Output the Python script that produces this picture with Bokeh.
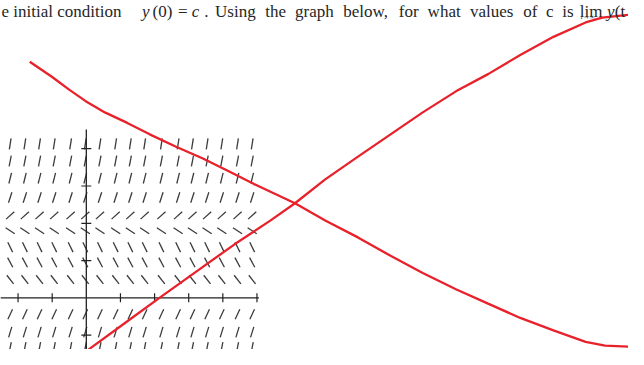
import math
from bokeh.plotting import figure
from bokeh.models import Range1d
from bokeh.core.properties import value
from bokeh.embed import file_html
from bokeh.resources import INLINE

# ---- data (t = horizontal units of the slope field, y = vertical units) ----
T_TICKS = [-2, -1, 1, 2, 3, 4, 5]
Y_TICKS = [-1, 1, 2, 3, 4]

FIELD_T = [-2.23, -1.80, -1.37, -0.94, -0.46, -0.03, 0.40, 0.86, 1.29,
           1.71, 2.20, 2.69, 3.11, 3.54, 3.97, 4.43, 4.86]
FIELD_Y = [4.13, 3.67, 3.21, 2.69, 2.21, 1.80, 1.36, 0.95, 0.49,
           -0.44, -0.92, -1.33]
# screen angle of each row's slope marks (degrees, counter-clockwise)
FIELD_ANGLE_DEG = [81, 79, 76, 72, 42, -34, -64, -62, -52, 65, 73, 79]

CURVE_DOWN_T = [-1.657, -1.0, -0.514, -0.029, 0.543, 1.2, 1.857, 2.629, 3.4,
                4.143, 4.914, 6.114, 7.0, 7.971, 8.914, 9.857, 10.829, 11.771,
                12.714, 13.686, 14.629, 15.2, 15.886]
CURVE_DOWN_Y = [6.333, 5.923, 5.590, 5.282, 4.974, 4.692, 4.385, 4.051, 3.744,
                3.410, 3.051, 2.538, 2.077, 1.615, 1.128, 0.667, 0.231, -0.154,
                -0.538, -0.872, -1.179, -1.282, -1.308]

CURVE_UP_T = [0.0, 0.143, 1.143, 2.143, 3.2, 4.343, 5.4, 6.114, 7.0, 7.971,
              8.914, 9.857, 10.829, 11.771, 12.714, 13.686, 14.629, 15.114, 15.886]
CURVE_UP_Y = [-1.436, -1.333, -0.667, 0.0, 0.692, 1.436, 2.077, 2.538, 3.179,
              3.795, 4.385, 4.974, 5.538, 6.0, 6.513, 7.0, 7.385, 7.513, 7.590]

# text of the (cropped) question line above the graph
TEXT_PIECES = ["e initial condition", "y", "(0)", "=", "c", ".",
               "Using", "the", "graph", "below,", "for", "what", "values",
               "of", "c", "is", "lim", "y", "(t"]
TEXT_STYLES = ["normal", "italic", "normal", "normal", "italic", "normal",
               "normal", "normal", "normal", "normal", "normal", "normal",
               "normal", "normal", "normal", "normal", "normal", "italic",
               "normal"]
LIMIT_SUB = "t→∞"

# ---- layout (source picture: t=0 at px 88, 35 px per t; y=0 at px 311, 39 px per y) ----
def tx(px):
    return (px - 88) / 35.0

def ty(py):
    return (311 - py) / 39.0

T_MIN, T_MAX = tx(0), tx(644)
Y_MIN, Y_MAX = ty(365), ty(0)
X_AXIS_END = tx(265)
Y_AXIS_TOP = ty(135)
TEXT_PX = [1, 145, 156, 182, 196, 209,
           220, 271.5, 302, 351.5, 408.5, 438, 481.5, 536, 559.5, 576,
           594, 622, 630]
TEXT_BASE_PX = 11.5
SUB_PX, SUB_BASE_PX = 595, 17.5

p = figure(width=628, height=349, output_backend="svg", toolbar_location=None,
           x_range=Range1d(T_MIN, T_MAX), y_range=Range1d(Y_MIN, Y_MAX),
           x_axis_type=None, y_axis_type=None, min_border=0,
           outline_line_color=None, background_fill_color="white")
p.grid.visible = False

# slope field
fx, fy, fa = [], [], []
for yy, ang in zip(FIELD_Y, FIELD_ANGLE_DEG):
    for tt in FIELD_T:
        fx.append(tt)
        fy.append(yy)
        fa.append(math.radians(ang))
p.scatter(fx, fy, marker="dash", size=11, angle=fa, line_color="#3c3c3c",
          line_width=1.3)

# axes drawn inside the field
AX = "#222222"
p.line([T_MIN, X_AXIS_END], [0, 0], line_color=AX, line_width=1.3)
p.line([0, 0], [Y_MIN, Y_AXIS_TOP], line_color=AX, line_width=1.3)
p.scatter(T_TICKS, [0] * len(T_TICKS), marker="dash", size=9,
          angle=math.pi / 2, line_color=AX, line_width=1.2)
p.scatter([0] * len(Y_TICKS), Y_TICKS, marker="dash", size=10,
          line_color=AX, line_width=1.2)

# red solution sketches
RED = "#e8212b"
p.line(CURVE_DOWN_T, CURVE_DOWN_Y, line_color=RED, line_width=2.3)
p.line(CURVE_UP_T, CURVE_UP_Y, line_color=RED, line_width=2.3)

# question text
SERIF = value("Liberation Serif")
TXT = "#262626"
for s, style, px in zip(TEXT_PIECES, TEXT_STYLES, TEXT_PX):
    p.text(x=[tx(px)], y=[ty(TEXT_BASE_PX)], text=[s], text_font=SERIF,
           text_font_size="17px", text_font_style=style, text_color=TXT,
           text_baseline="alphabetic", text_align="left")
p.text(x=[tx(SUB_PX)], y=[ty(SUB_BASE_PX)], text=[LIMIT_SUB], text_font=SERIF,
       text_font_size="7px", text_font_style="italic", text_color=TXT,
       text_baseline="alphabetic", text_align="left")

open("out.html", "w").write(file_html(p, INLINE))
